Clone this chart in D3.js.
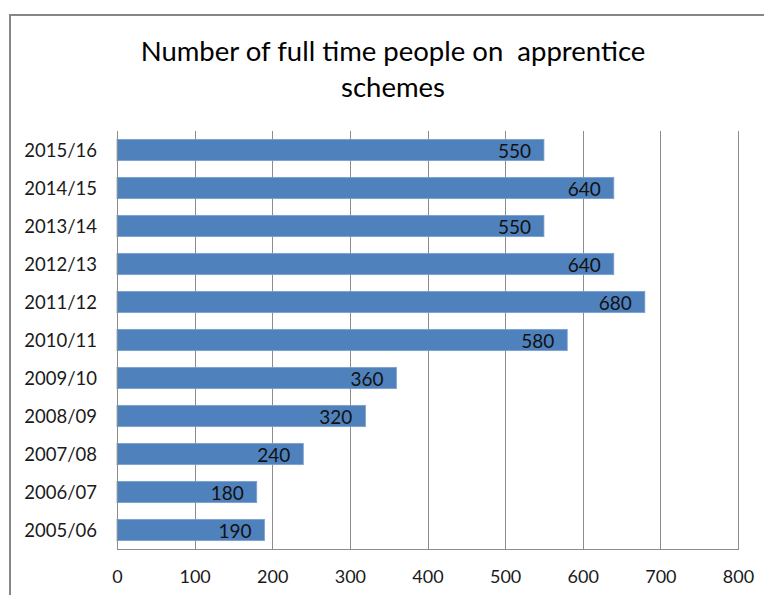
<!DOCTYPE html>
<html>
<head>
<meta charset="utf-8">
<script src="https://cdn.jsdelivr.net/npm/d3@7"></script>
<style>
  html, body { margin: 0; padding: 0; background: #fff; }
  svg { display: block; font-family: Lato, "Open Sans", sans-serif; }
</style>
</head>
<body>
<svg id="chart" width="764" height="595"></svg>
<script>
const categories = ["2015/16","2014/15","2013/14","2012/13","2011/12","2010/11","2009/10","2008/09","2007/08","2006/07","2005/06"];
const values = [550, 640, 550, 640, 680, 580, 360, 320, 240, 180, 190];
const xTicks = [0, 100, 200, 300, 400, 500, 600, 700, 800];
const titleLines = ["Number of full time people on  apprentice", "schemes"];

const svg = d3.select("#chart");
const W = 764, H = 595;
const plot = { left: 117, right: 738, top: 131, bottom: 549 };

// outer chart border (left + top visible)
svg.append("rect")
  .attr("x", 10).attr("y", 15)
  .attr("width", W + 20).attr("height", H + 20)
  .attr("fill", "#fff")
  .attr("stroke", "#868686").attr("stroke-width", 2);

const x = d3.scaleLinear().domain([0, 800]).range([plot.left, plot.right]);
const y = d3.scaleBand().domain(categories).range([plot.top, plot.bottom]).paddingInner(0.44).paddingOuter(0.22);

// gridlines
svg.append("g").selectAll("line").data(xTicks).join("line")
  .attr("x1", d => Math.round(x(d)) + 0.5).attr("x2", d => Math.round(x(d)) + 0.5)
  .attr("y1", plot.top).attr("y2", plot.bottom)
  .attr("stroke", "#8c8c8c").attr("stroke-width", 1);

// bars
svg.append("g").selectAll("rect").data(values).join("rect")
  .attr("x", x(0))
  .attr("y", (d, i) => y(categories[i]))
  .attr("width", d => x(d) - x(0))
  .attr("height", y.bandwidth())
  .attr("fill", "#4f81bd")
  .attr("stroke", "#7da0cc").attr("stroke-width", 0.8);

// axes lines
svg.append("line")
  .attr("x1", plot.left + 0.5).attr("x2", plot.left + 0.5)
  .attr("y1", plot.top).attr("y2", plot.bottom)
  .attr("stroke", "#8c8c8c");
svg.append("line")
  .attr("x1", plot.left).attr("x2", plot.right + 1)
  .attr("y1", plot.bottom + 0.5).attr("y2", plot.bottom + 0.5)
  .attr("stroke", "#8c8c8c");

// x axis tick labels
const xAxis = d3.axisBottom(x).tickValues(xTicks).tickSize(0).tickPadding(0).tickFormat(d3.format("d"));
const gx = svg.append("g").attr("transform", `translate(0,${plot.bottom})`).call(xAxis);
gx.select(".domain").remove();
gx.selectAll("text")
  .attr("y", 34).attr("dy", 0)
  .attr("font-size", 18).attr("fill", "#1a1a1a")
  .attr("font-family", "Lato, sans-serif");

// y axis category labels
const yAxis = d3.axisLeft(y).tickSize(0).tickPadding(20);
const gy = svg.append("g").attr("transform", `translate(${plot.left},0)`).call(yAxis);
gy.select(".domain").remove();
gy.selectAll("text")
  .attr("dy", "0.36em")
  .attr("font-size", 18.5).attr("fill", "#1a1a1a")
  .attr("font-family", "Lato, sans-serif");

// value labels
svg.append("g").selectAll("text").data(values).join("text")
  .attr("x", d => x(d) - 13)
  .attr("y", (d, i) => y(categories[i]) + y.bandwidth() / 2)
  .attr("dy", "0.4em")
  .attr("text-anchor", "end")
  .attr("font-size", 19).attr("fill", "#111")
  .text(d => d);

// title
svg.append("g").selectAll("text").data(titleLines).join("text")
  .attr("x", 393)
  .attr("y", (d, i) => 61 + i * 36)
  .attr("text-anchor", "middle")
  .attr("font-size", 27.5).attr("fill", "#000")
  .style("white-space", "pre")
  .attr("xml:space", "preserve")
  .text(d => d);
</script>
</body>
</html>
